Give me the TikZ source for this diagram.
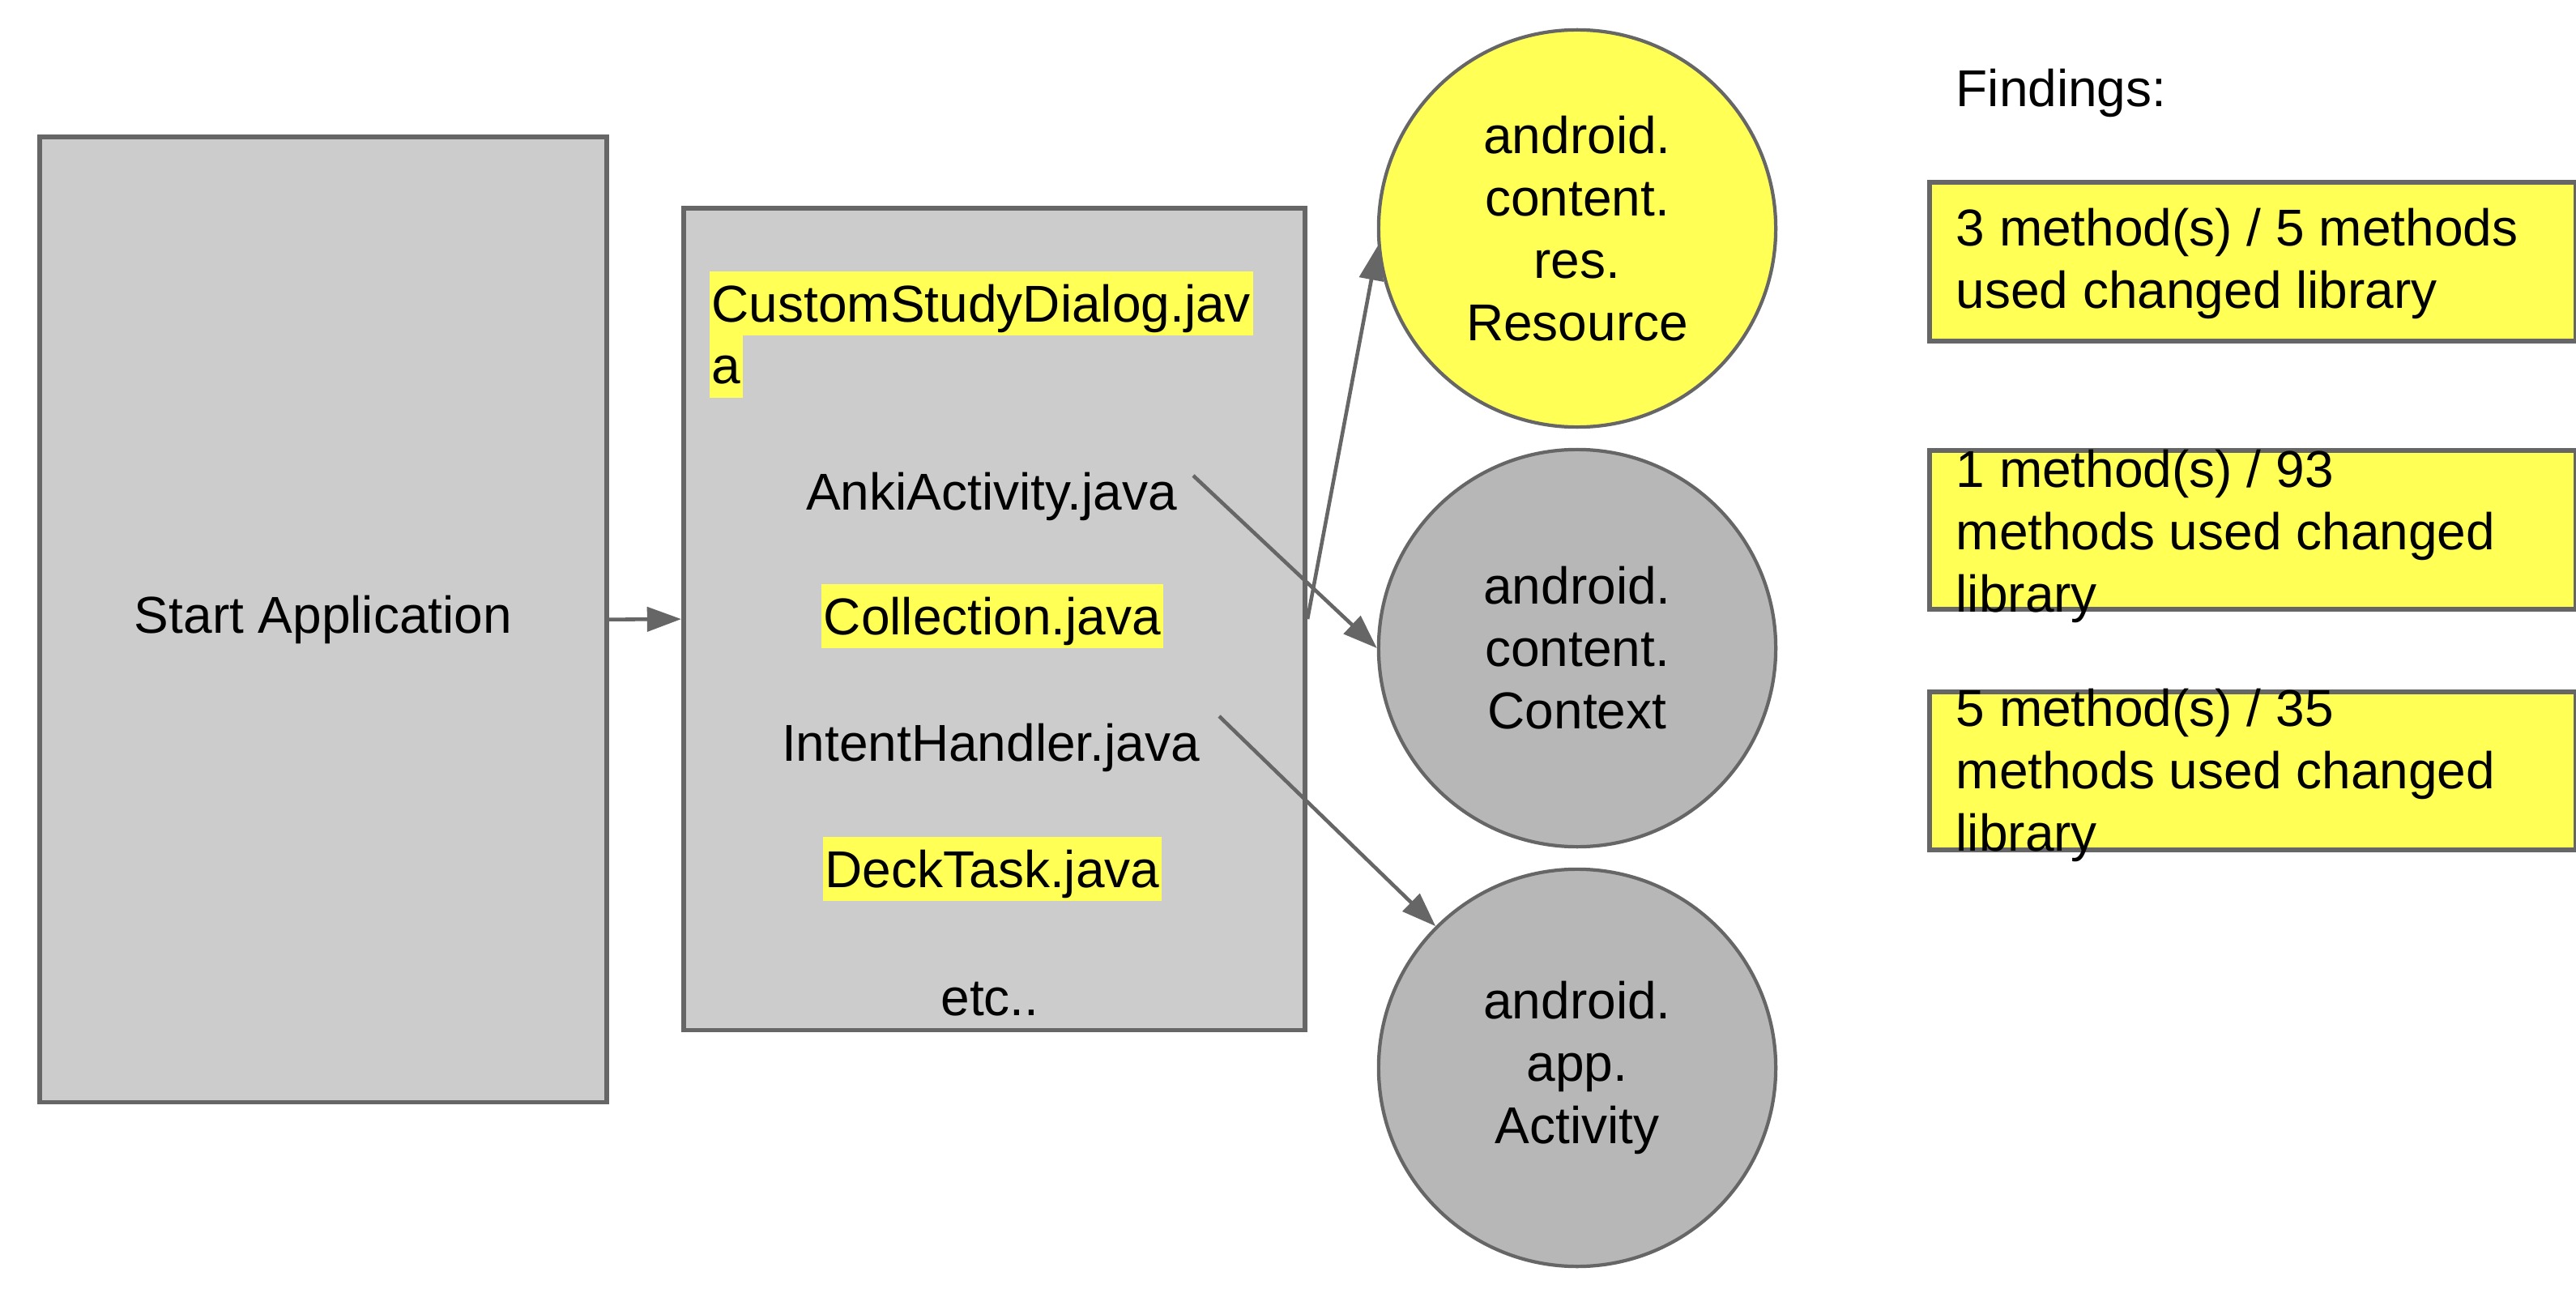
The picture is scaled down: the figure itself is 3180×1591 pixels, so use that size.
\documentclass[tikz,border=0pt]{standalone}
\usepackage{fontspec}
\setmainfont{Liberation Sans}
\usetikzlibrary{arrows.meta}
\definecolor{boxgray}{HTML}{CCCCCC}
\definecolor{circgray}{HTML}{B7B7B7}
\definecolor{hl}{HTML}{FFFF55}
\definecolor{edge}{HTML}{666666}
\begin{document}
\begin{tikzpicture}[x=0.01cm,y=-0.01cm,
  every node/.style={font=\fontsize{18.2pt}{21.9pt}\selectfont, text=black},
  panel/.style={draw=edge, line width=1.6pt, fill=boxgray, inner sep=0pt},
  lib/.style={circle, draw=edge, line width=1.2pt, minimum size=4.9cm, inner sep=0pt, align=center},
  finding/.style={draw=edge, line width=1.6pt, fill=hl, inner sep=0pt, anchor=north west, minimum width=7.98cm},
  hilite/.style={fill=hl, inner xsep=0.03cm, inner ysep=0pt, text height=0.62cm, text depth=0.17cm},
  plain/.style={inner sep=0pt},
  link/.style={draw=edge, line width=1.3pt, -{Triangle[length=12pt,width=8.5pt]}}
]
\useasboundingbox (0,0) rectangle (3180,1591);
\fill[white] (0,0) rectangle (3180,1591);

% application entry and source file panels
\node[panel, anchor=north west, minimum width=7cm, minimum height=11.91cm] (start) at (46,166) {Start Application};
\node[panel, anchor=north west, minimum width=7.67cm, minimum height=10.14cm] (files) at (841,254) {};

% source files
\node[hilite, anchor=base west] (csd) at (875,397) {CustomStudyDialog.jav};
\node[hilite, anchor=base west] (csda) at (875,474) {a};
\node[plain, anchor=base] (anki) at (1224,629) {AnkiActivity.java};
\node[hilite, anchor=base] (coll) at (1225,783) {Collection.java};
\node[plain, anchor=base] (intent) at (1223,939) {IntentHandler.java};
\node[hilite, anchor=base] (deck) at (1225,1095) {DeckTask.java};
\node[plain, anchor=base] (etc) at (1222,1253) {etc..};

% library classes
\node[lib, fill=hl] (res) at (1947,282) {android.\\content.\\res.\\Resource};
\node[lib, fill=circgray] (ctx) at (1947,800) {android.\\content.\\Context};
\node[lib, fill=circgray] (act) at (1947,1318) {android.\\app.\\Activity};

% findings
\node[plain, anchor=base west] (findings) at (2414,132) {Findings:};
\node[finding, minimum height=1.96cm] (f1) at (2379,222) {};
\node[finding, minimum height=1.96cm] (f2) at (2379,553) {};
\node[finding, minimum height=1.95cm] (f3) at (2379,851) {};
\node[plain, anchor=base west] (f1a) at (2414,304) {3 method(s) / 5 methods};
\node[plain, anchor=base west] (f1b) at (2414,381) {used changed library};
\node[plain, anchor=base west] (f2a) at (2414,601) {1 method(s) / 93};
\node[plain, anchor=base west] (f2b) at (2414,678) {methods used changed};
\node[plain, anchor=base west] (f2c) at (2414,755) {library};
\node[plain, anchor=base west] (f3a) at (2414,896) {5 method(s) / 35};
\node[plain, anchor=base west] (f3b) at (2414,973) {methods used changed};
\node[plain, anchor=base west] (f3c) at (2414,1050) {library};

% connectors
\coordinate (ankiout) at (1473,587);
\coordinate (intentout) at (1505,884);
\draw[link] (start.east) -- (files.west);
\draw[link] (files.east) -- (res.185);
\draw[link] (ankiout) -- (ctx.west);
\draw[link] (intentout) -- (act.135);
\end{tikzpicture}
\end{document}
